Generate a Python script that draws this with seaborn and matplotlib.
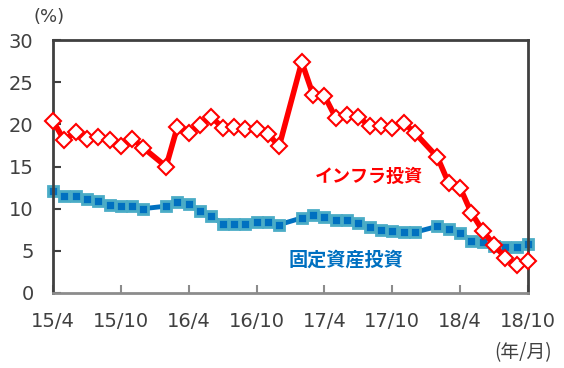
import pandas as pd
import matplotlib
matplotlib.use("Agg")
import matplotlib.pyplot as plt
import seaborn as sns

# monthly data (Jan is merged into Feb, so no January points)
months = ['15/4', '15/5', '15/6', '15/7', '15/8', '15/9', '15/10', '15/11', '15/12',
          '16/2', '16/3', '16/4', '16/5', '16/6', '16/7', '16/8', '16/9', '16/10', '16/11', '16/12',
          '17/2', '17/3', '17/4', '17/5', '17/6', '17/7', '17/8', '17/9', '17/10', '17/11', '17/12',
          '18/2', '18/3', '18/4', '18/5', '18/6', '18/7', '18/8', '18/9', '18/10']
infra = [20.4, 18.1, 19.1, 18.3, 18.5, 18.1, 17.4, 18.3, 17.2,
         15.0, 19.7, 19.0, 19.9, 20.9, 19.6, 19.7, 19.4, 19.4, 18.9, 17.4,
         27.4, 23.5, 23.4, 20.8, 21.1, 20.9, 19.8, 19.8, 19.6, 20.2, 19.0,
         16.1, 13.0, 12.5, 9.5, 7.4, 5.7, 4.2, 3.3, 3.8]
fai = [12.1, 11.5, 11.5, 11.2, 10.9, 10.4, 10.3, 10.3, 10.0,
       10.3, 10.8, 10.5, 9.7, 9.1, 8.2, 8.2, 8.2, 8.4, 8.4, 8.1,
       8.9, 9.2, 9.0, 8.7, 8.6, 8.3, 7.8, 7.5, 7.3, 7.2, 7.2,
       7.9, 7.6, 7.1, 6.2, 6.0, 5.6, 5.4, 5.4, 5.8]
tick_labels = ['15/4', '15/10', '16/4', '16/10', '17/4', '17/10', '18/4', '18/10']
y_ticks = [0, 5, 10, 15, 20, 25, 30]


def month_index(s):
    y, m = s.split('/')
    return (int(y) - 15) * 12 + int(m) - 4


df = pd.DataFrame({'month': months, 'infra': infra, 'fai': fai})
df['x'] = df['month'].map(month_index)

sns.set_theme(style="white")
plt.rcParams['font.family'] = ['Noto Sans CJK JP', 'DejaVu Sans']

fig = plt.figure(figsize=(5.64, 3.68), dpi=100)
ax = fig.add_axes([0.094, 0.204, 0.842, 0.687])

red = '#FF0000'
blue = '#0070C0'
grey_txt = '#404040'

sns.lineplot(data=df, x='x', y='fai', ax=ax, color=blue, linewidth=3.5,
             marker='s', markersize=7.5, markerfacecolor=blue,
             markeredgecolor='#4BACC6', markeredgewidth=2, zorder=2, clip_on=False)
sns.lineplot(data=df, x='x', y='infra', ax=ax, color=red, linewidth=4,
             marker='D', markersize=8, markerfacecolor='white',
             markeredgecolor=red, markeredgewidth=1.5, zorder=3, clip_on=False)

ax.set_xlim(0, 42)
ax.set_ylim(0, 30)
ax.set_xticks([month_index(t) for t in tick_labels])
ax.set_xticklabels(tick_labels, fontfamily='DejaVu Sans')
ax.set_yticks(y_ticks)
ax.set_yticklabels([str(v) for v in y_ticks], fontfamily='DejaVu Sans')
ax.set_xlabel('')
ax.set_ylabel('')

for side in ['left', 'top', 'right']:
    ax.spines[side].set_color(grey_txt)
    ax.spines[side].set_linewidth(2)
ax.spines['bottom'].set_color('#8C8C8C')
ax.spines['bottom'].set_linewidth(2)
ax.spines['bottom'].set_zorder(4)

ax.tick_params(axis='y', direction='in', length=6, width=1.5, color=grey_txt,
               labelsize=14, labelcolor=grey_txt, pad=14, left=True)
ax.tick_params(axis='x', direction='in', length=6, width=1.5, color='#8C8C8C',
               labelsize=14, labelcolor=grey_txt, pad=14, bottom=True)

fig.text(0.087, 0.955, '(%)', ha='center', va='center', fontsize=13,
         color=grey_txt, family='DejaVu Sans')
fig.text(0.927, 0.041, '(年/月)', ha='center', va='center', fontsize=13.5, color=grey_txt)

ax.text(27.9, 13.8, 'インフラ投資', color=red, fontsize=13, fontweight='bold',
        ha='center', va='center')
ax.text(25.9, 3.9, '固定資産投資', color=blue, fontsize=13.8, fontweight='bold',
        ha='center', va='center')

fig.savefig('out.png', dpi=100)
